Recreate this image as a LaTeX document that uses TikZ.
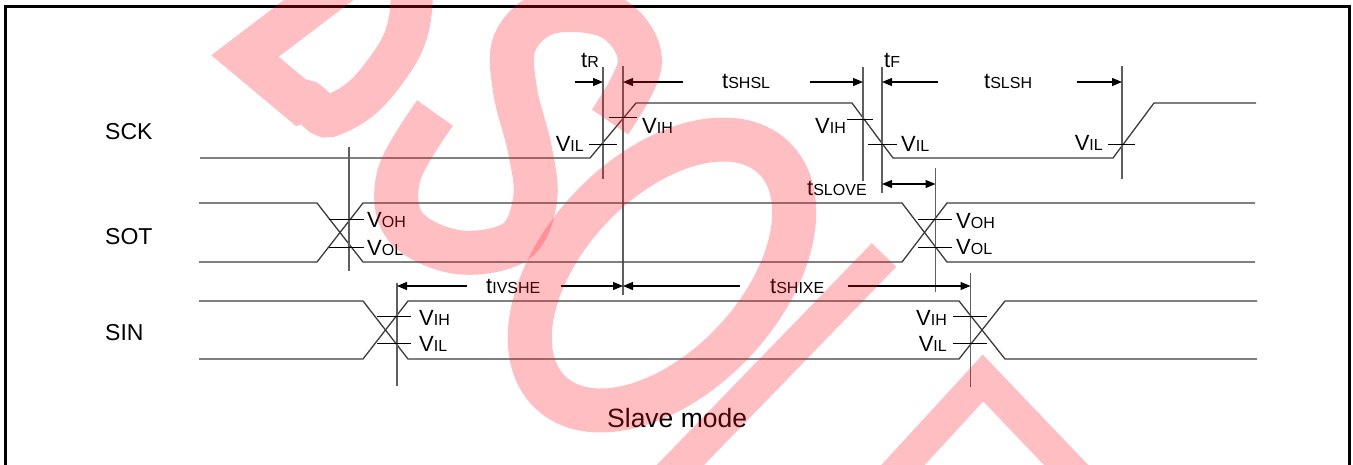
\documentclass[tikz,border=0pt]{standalone}
\usepackage{fontspec}
\setmainfont{Liberation Sans}
\usetikzlibrary{arrows.meta}
\definecolor{wm}{RGB}{255,20,30}
\definecolor{sigc}{RGB}{60,60,60}
\definecolor{refc}{RGB}{95,95,95}
\newcommand\vsb[2]{#1{\fontsize{16}{16}\selectfont #2}}
\begin{document}
\begin{tikzpicture}[x=1pt,y=-1pt,
  sig/.style={line width=1.3pt,draw=sigc},
  refl/.style={line width=1.6pt,draw=refc},
  tickm/.style={line width=1pt,draw=black},
  dimr/.style={line width=1.2pt,draw=black,-{Triangle[length=10pt,width=8pt]}},
  dimb/.style={line width=1.2pt,draw=black,{Triangle[length=10pt,width=8pt]}-{Triangle[length=10pt,width=8pt]}},
  lab/.style={inner sep=0pt,font=\fontsize{22}{22}\selectfont},
  sname/.style={inner sep=0pt,font=\fontsize{23}{23}\selectfont,anchor=base west},
  wmark/.style={draw=wm,draw opacity=0.27,line width=44pt}]
\useasboundingbox (0,0) rectangle (1353,464);
% frame
\draw[line width=2.5pt] (5.5,470) -- (5.5,6.5) -- (1349.5,6.5) -- (1349.5,470);

% signal names
\node[sname] (lsck) at (105,139.5) {SCK};
\node[sname] (lsot) at (105,244) {SOT};
\node[sname] (lsin) at (105,340) {SIN};
\node[inner sep=0pt,font=\fontsize{26.5}{26.5}\selectfont,anchor=base west] (lmode) at (607,427) {Slave mode};

% ---------- SCK ----------
\draw[sig] (200,158) -- (590,158) -- (636,103) -- (852,103) -- (893,158) -- (1113,158) -- (1154,103) -- (1256,103);
% reference lines
\coordinate (rRt) at (603,67);   \coordinate (rRb) at (603,179);
\coordinate (rHt) at (623,66);   \coordinate (rHb) at (623,295);
\coordinate (fAt) at (863,67);   \coordinate (fAb) at (863,181);
\coordinate (fBt) at (882,67);   \coordinate (fBb) at (882,193);
\coordinate (rSt) at (1122,66);  \coordinate (rSb) at (1122,179);
\draw[refl] (rRt) -- (rRb);
\draw[refl] (rHt) -- (rHb);
\draw[refl] (fAt) -- (fAb);
\draw[refl] (fBt) -- (fBb);
\draw[refl] (rSt) -- (rSb);
% ticks
\draw[tickm] (589,144) -- (617,144);
\draw[tickm] (609,117) -- (637,117);
\draw[tickm] (847,119) -- (873,119);
\draw[tickm] (868,144) -- (897,144);
\draw[tickm] (1108,144) -- (1135,144);
% level labels
\node[lab,anchor=base east] (v1) at (584,151) {\vsb{V}{IL}};
\node[lab,anchor=base west] (v2) at (642,133) {\vsb{V}{IH}};
\node[lab,anchor=base east] (v3) at (846,133) {\vsb{V}{IH}};
\node[lab,anchor=base west] (v4) at (901,151) {\vsb{V}{IL}};
\node[lab,anchor=base east] (v5) at (1103,150) {\vsb{V}{IL}};
% timing arrows
\coordinate (aR1) at (575,82);  \coordinate (aR2) at (603,82);
\coordinate (aH1) at (683,82);  \coordinate (aH2) at (623,82);
\coordinate (aS1) at (810,82);  \coordinate (aS2) at (863,82);
\coordinate (aF1) at (938,82);  \coordinate (aF2) at (882,82);
\coordinate (aL1) at (1077,82); \coordinate (aL2) at (1122,82);
\coordinate (aO1) at (882,184); \coordinate (aO2) at (935.5,184);
\draw[dimr] (aR1) -- (aR2);
\draw[dimr] (aH1) -- (aH2);
\draw[dimr] (aS1) -- (aS2);
\draw[dimr] (aF1) -- (aF2);
\draw[dimr] (aL1) -- (aL2);
\draw[dimb] (aO1) -- (aO2);
\node[lab,anchor=base west] (ttr) at (581,67) {\vsb{t}{R}};
\node[lab,anchor=base west] (ttf) at (884,67) {\vsb{t}{F}};
\node[lab,anchor=base west] (tshsl) at (722,88) {\vsb{t}{SHSL}};
\node[lab,anchor=base west] (tslsh) at (984,88) {\vsb{t}{SLSH}};
\node[lab,anchor=base west] (tslove) at (807,195) {\vsb{t}{SLOVE}};

% ---------- SOT ----------
\draw[sig] (199,203) -- (317,203) -- (363,262) -- (902,262) -- (947,203) -- (1255,203);
\draw[sig] (199,262) -- (317,262) -- (363,203) -- (902,203) -- (947,262) -- (1255,262);
\coordinate (o1t) at (349,147);   \coordinate (o1b) at (349,271);
\coordinate (o2t) at (935.5,168); \coordinate (o2b) at (935.5,292);
\draw[refl] (o1t) -- (o1b);
\draw[refl] (o2t) -- (o2b);
\draw[tickm] (329,219) -- (364,219);
\draw[tickm] (329,247) -- (364,247);
\draw[tickm] (918,219) -- (952,219);
\draw[tickm] (918,247) -- (952,247);
\node[lab,anchor=base west] (vo1) at (367,227) {\vsb{V}{OH}};
\node[lab,anchor=base west] (vo2) at (367,255) {\vsb{V}{OL}};
\node[lab,anchor=base west] (vo3) at (956,228) {\vsb{V}{OH}};
\node[lab,anchor=base west] (vo4) at (956,254) {\vsb{V}{OL}};

% ---------- SIN ----------
\draw[sig] (199,301) -- (363,301) -- (408,359) -- (959,359) -- (1005,301) -- (1257,301);
\draw[sig] (199,359) -- (363,359) -- (408,301) -- (959,301) -- (1005,359) -- (1257,359);
\coordinate (i1t) at (397,283);   \coordinate (i1b) at (397,386);
\coordinate (i2t) at (970.5,273); \coordinate (i2b) at (970.5,387);
\draw[refl] (i1t) -- (i1b);
\draw[refl] (i2t) -- (i2b);
\draw[tickm] (377,316) -- (411,316);
\draw[tickm] (377,343) -- (411,343);
\draw[tickm] (953,316) -- (987,316);
\draw[tickm] (953,343) -- (987,343);
\node[lab,anchor=base west] (vi1) at (419,325) {\vsb{V}{IH}};
\node[lab,anchor=base west] (vi2) at (419,351) {\vsb{V}{IL}};
\node[lab,anchor=base east] (vi3) at (947,325) {\vsb{V}{IH}};
\node[lab,anchor=base east] (vi4) at (947,351) {\vsb{V}{IL}};
\coordinate (b1a) at (467,286); \coordinate (b1b) at (397,286);
\coordinate (b2a) at (561,286); \coordinate (b2b) at (623,286);
\coordinate (b3a) at (740,286); \coordinate (b3b) at (623,286);
\coordinate (b4a) at (848,286); \coordinate (b4b) at (970.5,286);
\draw[dimr] (b1a) -- (b1b);
\draw[dimr] (b2a) -- (b2b);
\draw[dimr] (b3a) -- (b3b);
\draw[dimr] (b4a) -- (b4b);
\node[lab,anchor=base west] (tivshe) at (486,293) {\vsb{t}{IVSHE}};
\node[lab,anchor=base west] (tshixe) at (770,293) {\vsb{t}{SHIXE}};

% ---------- watermark ----------
\begin{scope}[wmark]
\draw[line width=42pt,line join=miter] (345,-20) -- (245,56) -- (300,102) to[out=38,in=200] (330,116) to[out=20,in=235] (392,62) to[out=55,in=270] (412,-20);
\draw[line cap=butt] plot[smooth,tension=0.6] coordinates {(610,122) (640,62) (612,18) (550,12) (515,42) (515,90) (530,150) (535,200) (515,242) (457,252) (405,226) (399,175) (435,113)};
\draw[rotate around={46.5:(662,275)}] (662,275) ellipse [x radius=162pt, y radius=98pt];
\draw[line width=34pt,line cap=butt] (884,255) -- (662,484);
\draw[line width=32pt,line join=miter,line cap=butt] (880,490) -- (983,378) -- (1090,490);
\end{scope}
\end{tikzpicture}
\end{document}
